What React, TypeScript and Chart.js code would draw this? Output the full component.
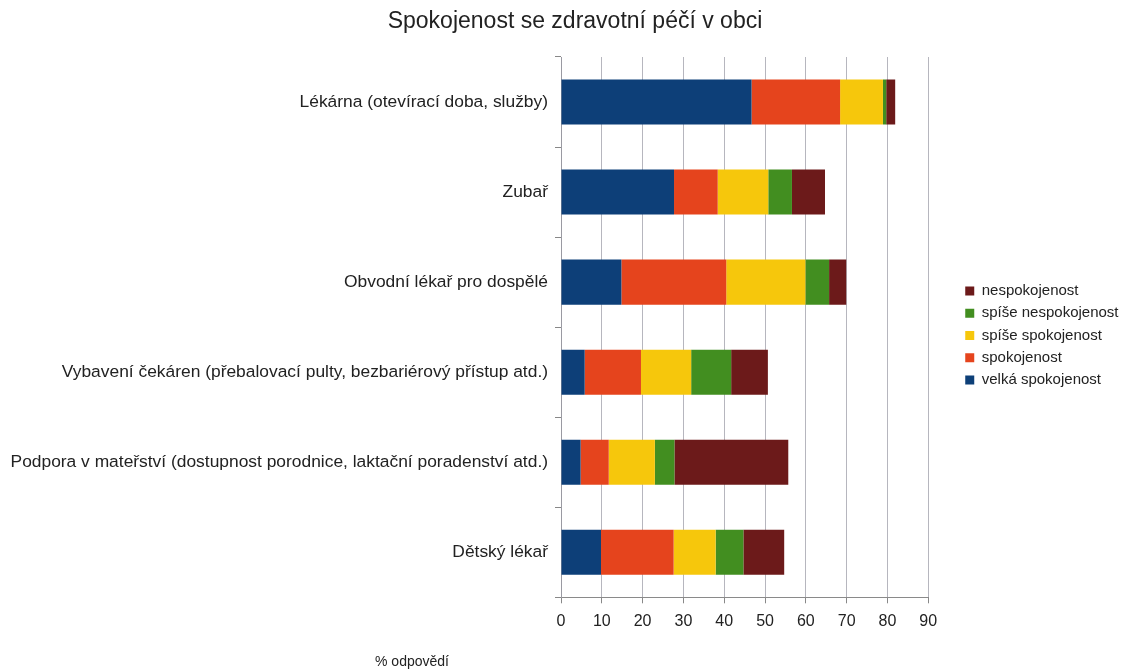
import React, { useEffect, useRef } from 'react';
import { Chart, registerables } from 'chart.js';

Chart.register(...registerables);

const chartTitle = 'Spokojenost se zdravotní péčí v obci';
const axisTitle = '% odpovědí';

const categories = [
  'Lékárna (otevírací doba, služby)',
  'Zubař',
  'Obvodní lékař pro dospělé',
  'Vybavení čekáren (přebalovací pulty, bezbariérový přístup atd.)',
  'Podpora v mateřství (dostupnost porodnice, laktační poradenství atd.)',
  'Dětský lékař',
];

const seriesNames = [
  'velká spokojenost',
  'spokojenost',
  'spíše spokojenost',
  'spíše nespokojenost',
  'nespokojenost',
];

const velkaSpokojenost = [46.7, 27.7, 14.8, 5.8, 4.8, 9.8];
const spokojenost = [21.7, 10.7, 25.7, 13.8, 6.9, 17.8];
const spiseSpokojenost = [10.5, 12.4, 19.4, 12.3, 11.3, 10.3];
const spiseNespokojenost = [0.8, 5.8, 5.8, 9.8, 4.8, 6.8];
const nespokojenost = [2.2, 8.1, 4.2, 9.0, 27.9, 10.0];

const seriesValues = [
  velkaSpokojenost,
  spokojenost,
  spiseSpokojenost,
  spiseNespokojenost,
  nespokojenost,
];

const seriesColors = ['#0d3f78', '#e5441d', '#f6c70c', '#428e20', '#6c1a1a'];

const xTicks = [0, 10, 20, 30, 40, 50, 60, 70, 80, 90];

const FONT = "'Liberation Sans', Arial, sans-serif";

const textPlugin = {
  id: 'extraTexts',
  afterDraw(chart: any) {
    const ctx = chart.ctx;
    ctx.save();
    ctx.fillStyle = '#222';
    ctx.textAlign = 'center';
    ctx.textBaseline = 'middle';
    ctx.font = `23px ${FONT}`;
    ctx.fillText(chartTitle, 575, 14);
    ctx.font = `14px ${FONT}`;
    ctx.fillText(axisTitle, 412, 654);
    ctx.restore();
  },
};

export default function App() {
  const ref = useRef<HTMLCanvasElement | null>(null);

  useEffect(() => {
    if (!ref.current) return;
    const chart = new Chart(ref.current, {
      type: 'bar',
      data: {
        labels: categories,
        datasets: seriesNames.map((name, i) => ({
          label: name,
          data: seriesValues[i],
          backgroundColor: seriesColors[i],
          borderWidth: 0,
          barPercentage: 0.5,
          categoryPercentage: 1,
        })),
      },
      options: {
        indexAxis: 'y',
        animation: false,
        responsive: false,
        maintainAspectRatio: false,
        layout: { padding: { left: 0, right: 21.5, top: 49, bottom: 29.5 } },
        plugins: {
          title: { display: false },
          legend: {
            position: 'right',
            align: 'start',
            fullSize: false,
            reverse: true,
            title: {
              display: true,
              text: ' ',
              font: { family: FONT, size: 10, lineHeight: 1.2 },
              padding: { top: 100, bottom: 107.25 },
            },
            labels: {
              boxWidth: 9,
              boxHeight: 9,
              padding: 7.25,
              color: '#222',
              font: { family: FONT, size: 15 },
            },
          },
          tooltip: { enabled: false },
        },
        scales: {
          x: {
            stacked: true,
            min: 0,
            max: 90,
            afterBuildTicks: (s: any) => {
              s.ticks = xTicks.map((v) => ({ value: v }));
            },
            grid: {
              color: '#b6b6be',
              lineWidth: 1,
              drawTicks: true,
              tickLength: 6,
              tickColor: '#888',
            },
            border: { display: true, color: '#8a8a8a' },
            ticks: {
              color: '#222',
              padding: 9,
              font: { family: FONT, size: 16 },
            },
          },
          y: {
            stacked: true,
            grid: {
              display: true,
              drawOnChartArea: false,
              drawTicks: true,
              tickLength: 6,
              tickColor: '#888',
              offset: true,
            },
            border: { display: true, color: '#9a9aa2' },
            ticks: {
              color: '#222',
              padding: 7,
              font: { family: FONT, size: 17.4 },
            },
            afterFit: (s: any) => {
              s.width = 561;
            },
          },
          gap: {
            type: 'linear',
            position: 'right',
            display: true,
            grid: { display: false },
            border: { display: false },
            ticks: { display: false },
            afterFit: (s: any) => {
              s.width = 29.75;
            },
          },
        },
      } as any,
      plugins: [textPlugin],
    });
    return () => chart.destroy();
  }, []);

  return (
    <div style={{ marginLeft: -8, width: 1142, height: 662, overflow: 'hidden' }}>
      <canvas ref={ref} width={1150} height={662} style={{ display: 'block' }} />
    </div>
  );
}
